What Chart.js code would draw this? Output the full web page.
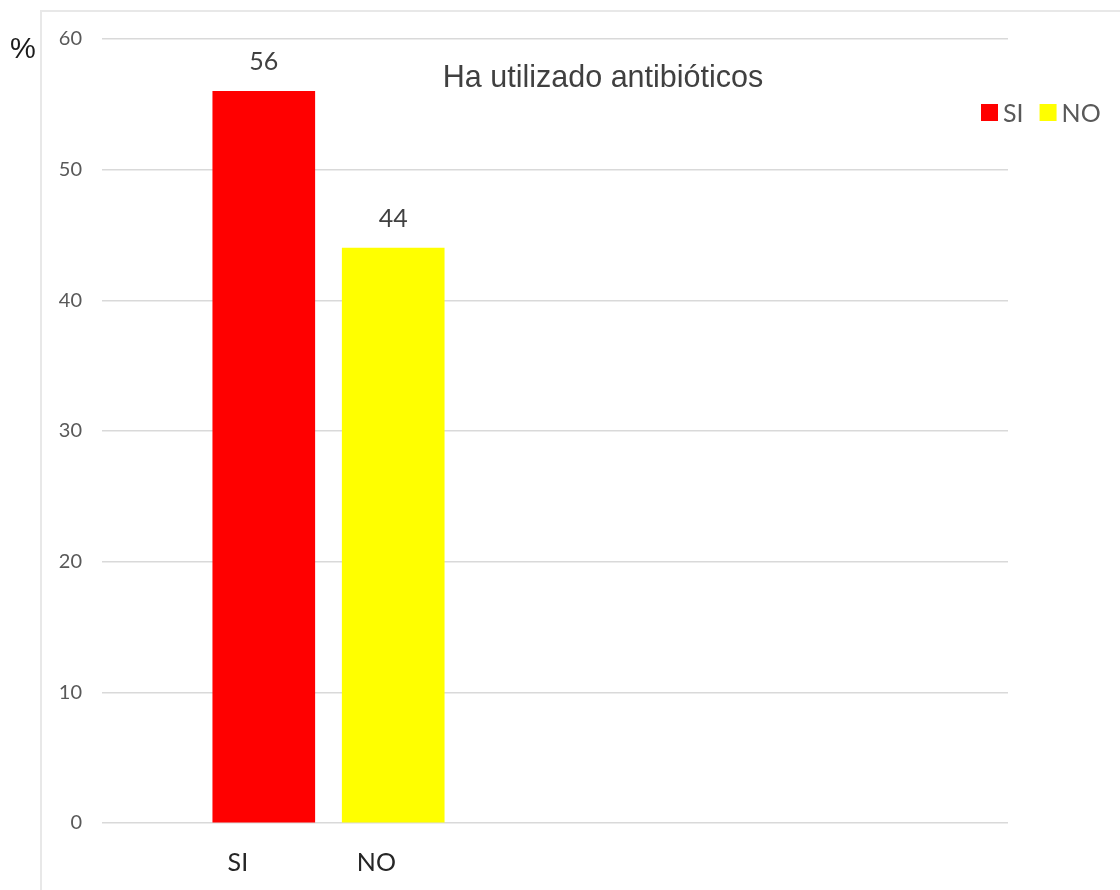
<!DOCTYPE html>
<html>
<head>
<meta charset="utf-8">
<script src="https://cdn.jsdelivr.net/npm/chart.js@4"></script>
<style>
    html, body { margin: 0; padding: 0; background: #fff; overflow: hidden; }
    #wrap { position: relative; width: 1120px; height: 890px; }
    #frame { position: absolute; left: 40px; top: 10px; width: 1200px; height: 1000px; border: 2px solid #e8e8e8; box-sizing: border-box; }
    #chart { position: absolute; left: 0; top: 0; }
</style>
</head>
<body>
<div id="wrap">
    <div id="frame"></div>
    <canvas id="chart" width="1120" height="890"></canvas>
</div>
<script>
// data
const categories = ['SI', 'NO'];
const values = [56, 44];
const barColors = ['#ff0000', '#ffff00'];
const yTicks = [0, 10, 20, 30, 40, 50, 60];
const chartTitle = 'Ha utilizado antibióticos';
const unitLabel = '%';

// where the bars and their labels sit on the (hidden) linear x axis
const barPos = [1.25, 2.25];
const labelPos = [1.05, 2.12];

const textFont = 'Lato, "Open Sans", sans-serif';

// one dataset per answer so the legend gets one entry each
const datasets = categories.map(function (name, i) {
    return {
        label: name,
        data: [{ x: barPos[i], y: values[i] }],
        backgroundColor: barColors[i],
        barThickness: 102
    };
});

// title, % sign, value labels and legend are drawn by hand
const extrasPlugin = {
    id: 'extras',
    afterDatasetsDraw(chart) {
        const ctx = chart.ctx;
        ctx.save();

        // value labels above the bars
        ctx.fillStyle = '#404040';
        ctx.font = '25px ' + textFont;
        ctx.textAlign = 'center';
        ctx.textBaseline = 'middle';
        chart.data.datasets.forEach(function (ds, i) {
            const bar = chart.getDatasetMeta(i).data[0];
            ctx.fillText(String(values[i]), bar.x, bar.y - 29);
        });

        // title
        ctx.fillStyle = '#404040';
        ctx.font = '30.5px "Liberation Sans", Arial, sans-serif';
        ctx.fillText(chartTitle, 603, 79);

        // % sign
        ctx.fillStyle = '#1a1a1a';
        ctx.font = '29px "Liberation Sans", Arial, sans-serif';
        ctx.fillText(unitLabel, 23, 50);

        // legend
        let x = 981;
        ctx.font = '25px ' + textFont;
        ctx.textAlign = 'left';
        chart.data.datasets.forEach(function (ds) {
            ctx.fillStyle = ds.backgroundColor;
            ctx.fillRect(x, 104, 17, 17);
            x += 22;
            ctx.fillStyle = '#595959';
            ctx.fillText(ds.label, x, 114);
            x += ctx.measureText(ds.label).width + 16;
        });

        ctx.restore();
    }
};

new Chart(document.getElementById('chart'), {
    type: 'bar',
    data: { datasets: datasets },
    plugins: [extrasPlugin],
    options: {
        responsive: false,
        animation: false,
        layout: { padding: { top: 39, right: 112, left: 0, bottom: 0 } },
        datasets: { bar: { grouped: false } },
        plugins: {
            legend: { display: false },
            tooltip: { enabled: false }
        },
        scales: {
            x: {
                type: 'linear',
                min: 0,
                max: 7,
                offset: false,
                grid: { display: false, drawTicks: false },
                border: { display: false },
                afterBuildTicks: function (axis) {
                    axis.ticks = labelPos.map(function (v) { return { value: v }; });
                },
                afterFit: function (axis) { axis.height = 67; },
                ticks: {
                    padding: 25,
                    autoSkip: false,
                    maxRotation: 0,
                    color: '#262626',
                    font: { family: textFont, size: 25 },
                    callback: function (value, index) { return categories[index]; }
                }
            },
            y: {
                min: 0,
                max: 60,
                grid: { color: '#d9d9d9', lineWidth: 1.5, drawTicks: false },
                border: { display: false },
                afterBuildTicks: function (axis) {
                    axis.ticks = yTicks.map(function (v) { return { value: v }; });
                },
                afterFit: function (axis) { axis.width = 102; },
                ticks: {
                    padding: 20,
                    color: '#595959',
                    font: { family: textFont, size: 20 }
                }
            }
        }
    }
});
</script>
</body>
</html>
